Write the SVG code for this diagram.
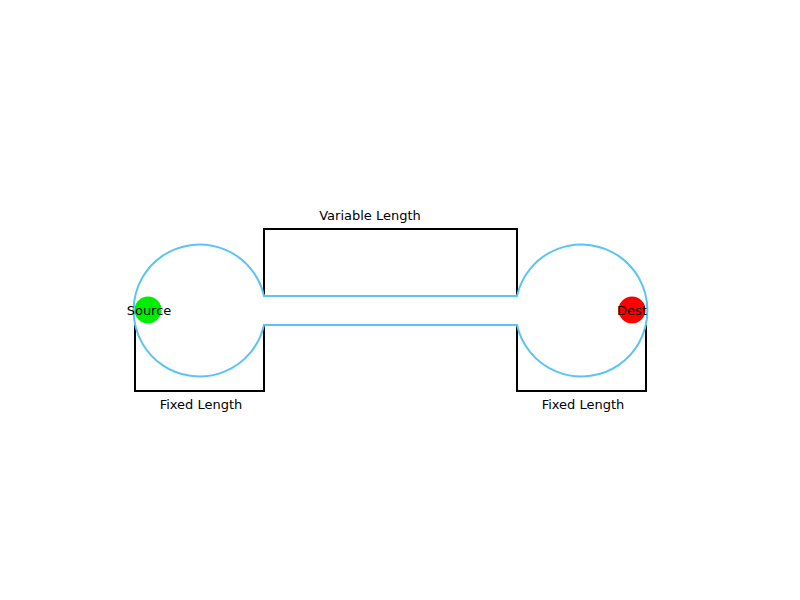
<svg xmlns="http://www.w3.org/2000/svg" width="800" height="600" viewBox="0 0 800 600">
<style>
.track{fill:none;stroke:#5ac4f6;stroke-width:2}
.bracket{fill:none;stroke:#000;stroke-width:2}
.lbl{font-family:"DejaVu Sans",sans-serif;font-size:13px;fill:#000;text-anchor:middle}
</style>
<rect width="800" height="600" fill="#fff"/>
<g id="connectors">
<path class="bracket" d="M135,325 V391 H264 V325"/>
<path class="bracket" d="M264,296 V229 H517 V296"/>
<path class="bracket" d="M517,325 V391 H646 V325"/>
</g>
<g id="track">
<path class="track" d="M264,296 H517 A66,66 0 1 1 517,325 H264 A66,66 0 1 1 264,296 Z"/>
</g>
<g id="source">
<circle cx="148" cy="310" r="13.5" fill="#00ee00"/>
<text class="lbl" x="149" y="314.5">Source</text>
</g>
<g id="dest">
<circle cx="632" cy="310" r="13.5" fill="#ff0000"/>
<text class="lbl" x="632" y="314.5">Dest</text>
</g>
<g id="labels">
<text class="lbl" x="370" y="220">Variable Length</text>
<text class="lbl" x="201" y="409">Fixed Length</text>
<text class="lbl" x="583" y="409">Fixed Length</text>
</g>
</svg>
